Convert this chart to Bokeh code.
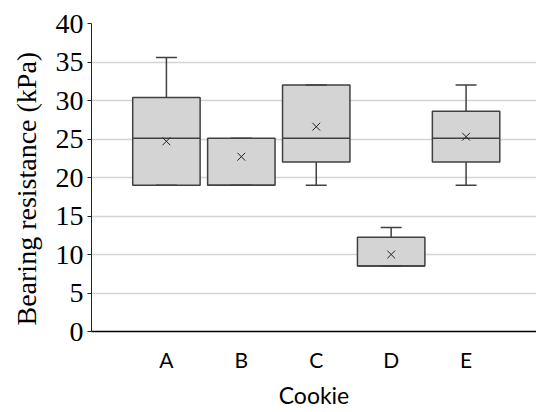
import numpy as np
from bokeh.plotting import figure
from bokeh.models import Range1d, FixedTicker, Title
from bokeh.embed import file_html
from bokeh.resources import INLINE

categories = ["A", "B", "C", "D", "E"]
lower = [19.0, 19.0, 19.0, 8.5, 19.0]
q1 = [19.0, 19.0, 22.0, 8.5, 22.0]
median = [25.1, 19.0, 25.1, 8.5, 25.1]
q3 = [30.4, 25.1, 32.0, 12.25, 28.6]
upper = [35.6, 25.1, 32.0, 13.5, 32.0]
mean = [24.7, 22.7, 26.6, 10.0, 25.3]
y_ticks = [0, 5, 10, 15, 20, 25, 30, 35, 40]
y_title = "Bearing resistance  (kPa)"
x_title = "Cookie"

xs = np.arange(1, len(categories) + 1)

p = figure(width=536, height=412, x_range=Range1d(0, 5.94), y_range=Range1d(0, 40),
           output_backend="svg", toolbar_location=None,
           min_border_left=91, min_border_right=0, min_border_top=23, min_border_bottom=81)
p.outline_line_color = None
p.background_fill_color = "white"

BOX_W = 0.9
CAP_W = 0.28
EDGE = "#404040"

p.vbar(x=xs, width=BOX_W, bottom=q1, top=q3, fill_color="#d4d4d4",
       line_color=EDGE, line_width=1.5)
p.segment(x0=xs - BOX_W / 2, x1=xs + BOX_W / 2, y0=median, y1=median,
          line_color=EDGE, line_width=1.5)
p.segment(x0=xs, x1=xs, y0=q3, y1=upper, line_color=EDGE, line_width=1.5)
p.segment(x0=xs, x1=xs, y0=lower, y1=q1, line_color=EDGE, line_width=1.5)
p.segment(x0=xs - CAP_W / 2, x1=xs + CAP_W / 2, y0=upper, y1=upper,
          line_color=EDGE, line_width=1.5)
p.segment(x0=xs - CAP_W / 2, x1=xs + CAP_W / 2, y0=lower, y1=lower,
          line_color=EDGE, line_width=1.5)
p.scatter(x=xs, y=mean, marker="x", size=11, line_color="#222222", line_width=1)

p.xgrid.grid_line_color = None
p.ygrid.ticker = FixedTicker(ticks=y_ticks)
p.ygrid.grid_line_color = "#d4d4d4"
p.ygrid.grid_line_width = 1.5

ya = p.yaxis[0]
ya.ticker = FixedTicker(ticks=y_ticks)
ya.axis_line_color = "#222222"
ya.axis_line_width = 1
ya.major_tick_out = 4
ya.major_tick_in = 0
ya.minor_tick_line_color = None
ya.major_tick_line_color = "#222222"
ya.major_label_text_font = "Liberation Serif"
ya.major_label_text_font_size = "28px"
ya.major_label_text_color = "black"
ya.major_label_standoff = 4

p.add_layout(Title(text=y_title, align="left", offset=6, standoff=18,
                   vertical_align="top",
                   text_font="Liberation Serif", text_font_size="28px",
                   text_font_style="normal", text_color="black"), "left")

xa = p.xaxis[0]
xa.ticker = FixedTicker(ticks=list(xs))
xa.major_label_overrides = {int(x): c for x, c in zip(xs, categories)}
xa.axis_line_color = "black"
xa.axis_line_width = 1.5
xa.major_tick_out = 0
xa.major_tick_in = 0
xa.minor_tick_line_color = None
xa.major_label_text_font = "Lato"
xa.major_label_text_font_size = "21px"
xa.major_label_text_color = "black"
xa.major_label_standoff = 15
xa.axis_label = x_title
xa.axis_label_text_font = "Lato"
xa.axis_label_text_font_size = "23px"
xa.axis_label_text_font_style = "normal"
xa.axis_label_text_color = "black"
xa.axis_label_standoff = 6

open("out.html", "w").write(file_html(p, INLINE))
